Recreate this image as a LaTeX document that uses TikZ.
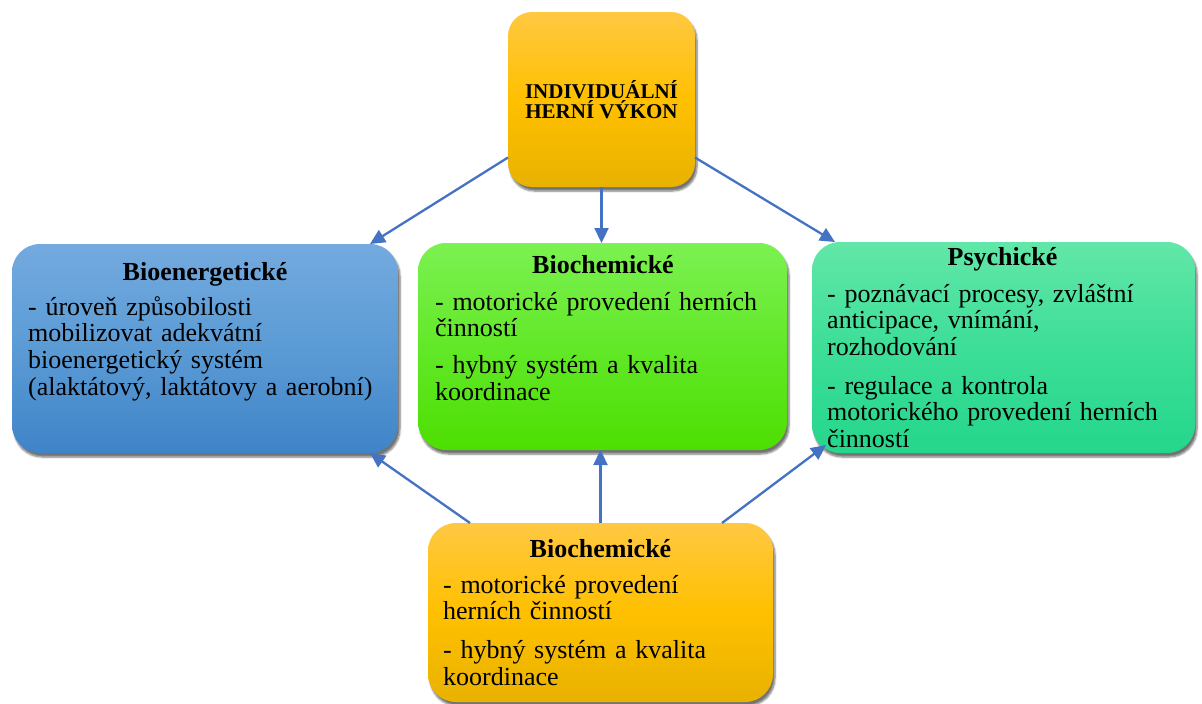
\documentclass[tikz,border=0pt]{standalone}
\usepackage{fontspec}
\setmainfont{Liberation Serif}
\usetikzlibrary{arrows.meta,shadows.blur}
\definecolor{zlutaA}{HTML}{FFC842}
\definecolor{zlutaS}{HTML}{FFC000}
\definecolor{zlutaB}{HTML}{E8B200}
\definecolor{modraA}{HTML}{73AADF}
\definecolor{modraS}{HTML}{5B9BD5}
\definecolor{modraB}{HTML}{3F84C8}
\definecolor{zelenaA}{HTML}{7CF152}
\definecolor{zelenaS}{HTML}{62E828}
\definecolor{zelenaB}{HTML}{4DDF02}
\definecolor{tyrkysA}{HTML}{62E7A8}
\definecolor{tyrkysS}{HTML}{3DDE98}
\definecolor{tyrkysB}{HTML}{24D68B}
\definecolor{sipka}{HTML}{4472C4}
\tikzset{
    blok/.style={rounded corners=28pt, inner sep=0pt, outer sep=0pt,
        blur shadow={shadow xshift=2pt, shadow yshift=-4pt, shadow blur steps=6, shadow opacity=55}},
    zluta/.style={top color=zlutaA, bottom color=zlutaB, middle color=zlutaS},
    modra/.style={top color=modraA, bottom color=modraB, middle color=modraS},
    zelena/.style={top color=zelenaA, bottom color=zelenaB, middle color=zelenaS},
    tyrkys/.style={top color=tyrkysA, bottom color=tyrkysB, middle color=tyrkysS},
    nadpis/.style={anchor=base, inner sep=0pt, font=\bfseries\fontsize{26}{26.7}\selectfont},
    telo/.style={anchor=base west, inner sep=0pt, text width=380pt, align=left, font=\fontsize{26}{26.7}\selectfont},
    spoj/.style={draw=sipka, line width=2.3pt, -{Triangle[length=15pt,width=14pt]}}
}
\begin{document}
\begin{tikzpicture}[x=1pt,y=-1pt]
                    \useasboundingbox (0,0) rectangle (1202,704);
                    \node[blok, zluta, minimum width=187pt, minimum height=175pt, rounded corners=24pt] (vykon) at (601.5,99.5) {};
                    \node[blok, modra, minimum width=386pt, minimum height=209pt] (bioen) at (205,348.5) {};
                    \node[blok, zelena, minimum width=369pt, minimum height=207pt] (biochem) at (602.5,346.5) {};
                    \node[blok, tyrkys, minimum width=383pt, minimum height=211pt] (psych) at (1003.5,347.5) {};
                    \node[blok, zluta, minimum width=345pt, minimum height=179pt] (dolni) at (600.5,612.5) {};
                    \node[align=center, inner sep=0pt, font=\bfseries\fontsize{21}{20}\selectfont] (vykon-t) at (vykon) {INDIVIDUÁLNÍ\\HERNÍ VÝKON};
                    \node[nadpis] (bioen-n) at (205,280) {Bioenergetické};
                    \node[telo] (bioen-t) at (28,315) {- úroveň způsobilosti\\mobilizovat adekvátní\\bioenergetický systém\\(alaktátový, laktátovy a aerobní)};
                    \node[nadpis] (biochem-n) at (603,273) {Biochemické};
                    \node[telo] (biochem-t) at (435,310) {- motorické provedení herních\\činností\\[10pt]- hybný systém a kvalita\\koordinace};
                    \node[nadpis] (psych-n) at (1002.5,265) {Psychické};
                    \node[telo] (psych-t) at (827,302) {- poznávací procesy, zvláštní\\anticipace, vnímání,\\rozhodování\\[12pt]- regulace a kontrola\\motorického provedení herních\\činností};
                    \node[nadpis] (dolni-n) at (600.5,557) {Biochemické};
                    \node[telo] (dolni-t) at (443,593) {- motorické provedení\\herních činností\\[12pt]- hybný systém a kvalita\\koordinace};
                    \draw[spoj] ([yshift=-58pt]vykon.west) -- ([xshift=-28pt]bioen.north east);
                    \draw[spoj] (vykon.south) -- (vykon.south |- biochem.north);
                    \draw[spoj] ([yshift=-58pt]vykon.east) -- ([xshift=23pt]psych.north west);
                    \draw[spoj] ([xshift=42pt]dolni.north west) -- ([xshift=-28pt]bioen.south east);
                    \draw[spoj] (dolni.north) -- (dolni.north |- biochem.south);
                    \draw[spoj] ([xshift=-51pt]dolni.north east) -- ([xshift=14pt,yshift=8pt]psych.south west);
\end{tikzpicture}
\end{document}
